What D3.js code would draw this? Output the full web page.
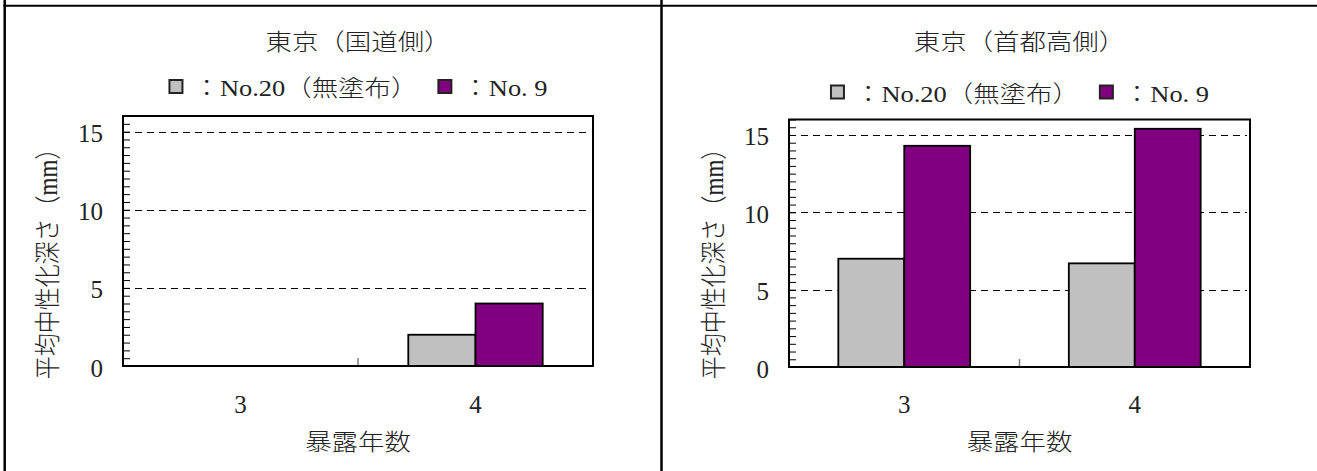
<!DOCTYPE html>
<html>
<head>
<meta charset="utf-8">
<script src="https://cdn.jsdelivr.net/npm/d3@7"></script>
<style>
  html, body { margin: 0; padding: 0; background: #fff; }
  svg { display: block; }
</style>
</head>
<body>
<svg id="chart" width="1317" height="471"></svg>
<script>
// ---------- DATA ----------
const categories = ["3", "4"];
const seriesNames = ["No.20（無塗布）", "No. 9"];
const seriesColors = ["#c0c0c0", "#800080"];
const panelTitles = ["東京（国道側）", "東京（首都高側）"];
// values per series, per category (null = no bar)
const panel1No20 = [null, 2.0];
const panel1No9 = [null, 4.0];
const panel2No20 = [7.0, 6.7];
const panel2No9 = [14.3, 15.4];
const yTickValues = [0, 5, 10, 15];
const yDomainMax = 16;
const xAxisTitle = "暴露年数";
const yAxisTitle = "平均中性化深さ（mm）";

// ---------- LAYOUT ----------
const svg = d3.select("#chart");
const CJK = "'Liberation Serif', 'Noto Sans CJK JP', serif";
const NUM = "'Liberation Serif', serif";
const SX = 1.15;          // horizontal stretch of the original picture
const textColor = "#222";
const cjkWeight = 300;

const panels = [
  { title: panelTitles[0], values: [panel1No20, panel1No9],
    plot: { x0: 123, x1: 593, y0: 116, y1: 366 }, titleY: 50, legendY: 96.3 },
  { title: panelTitles[1], values: [panel2No20, panel2No9],
    plot: { x0: 789, x1: 1250, y0: 119.5, y1: 367 }, titleY: 50, legendY: 101.8 }
];

// outer frame
const frame = svg.append("g").attr("stroke", "#000");
frame.append("line").attr("x1", 4.7).attr("x2", 4.7).attr("y1", 0).attr("y2", 471).attr("stroke-width", 2.5);
frame.append("line").attr("x1", 661.5).attr("x2", 661.5).attr("y1", 0).attr("y2", 471).attr("stroke-width", 2.5);
frame.append("line").attr("x1", 3.5).attr("x2", 1317).attr("y1", 5.7).attr("y2", 5.7).attr("stroke-width", 2);

panels.forEach(p => {
  const { x0, x1, y0, y1 } = p.plot;
  const cx = (x0 + x1) / 2;
  const g = svg.append("g");

  const x = d3.scaleBand().domain(categories).range([x0, x1]).padding(0);
  const bw = x.bandwidth();
  const xs = d3.scaleBand().domain(seriesNames).range([bw * 0.214, bw * 0.786]).padding(0);
  const y = d3.scaleLinear().domain([0, yDomainMax]).range([y1, y0]);

  // dashed gridlines
  g.append("g").selectAll("line").data(yTickValues.filter(v => v > 0)).join("line")
    .attr("x1", x0).attr("x2", x1 - 3)
    .attr("y1", d => Math.round(y(d)) + 0.5).attr("y2", d => Math.round(y(d)) + 0.5)
    .attr("stroke", "#000").attr("stroke-width", 1).attr("stroke-dasharray", "7,5");

  // minor ticks on y axis (inside), via d3 axis
  const minor = d3.range(0, yDomainMax + 0.001, 0.5);
  const yAxis = d3.axisRight(y).tickValues(minor).tickSize(7).tickFormat("");
  const ya = g.append("g").attr("transform", `translate(${x0},0)`).call(yAxis);
  ya.select(".domain").remove();
  ya.selectAll(".tick line").attr("stroke", "#000").attr("stroke-width", 1);

  // y tick labels
  g.append("g").selectAll("text").data(yTickValues).join("text")
    .attr("x", x0 - 20).attr("y", d => y(d) + 10.5)
    .attr("text-anchor", "end")
    .attr("font-family", NUM).attr("font-size", 25).attr("fill", textColor)
    .text(d => d);

  // bars
  const barData = [];
  p.values.forEach((vals, si) => {
    vals.forEach((v, ci) => {
      if (v !== null) barData.push({ s: seriesNames[si], c: categories[ci], v, color: seriesColors[si] });
    });
  });
  g.append("g").selectAll("rect").data(barData).join("rect")
    .attr("x", d => x(d.c) + xs(d.s))
    .attr("width", xs.bandwidth())
    .attr("y", d => y(d.v))
    .attr("height", d => y(0) - y(d.v))
    .attr("fill", d => d.color)
    .attr("stroke", "#000").attr("stroke-width", 1.8);

  // category boundary tick (inside, gray)
  g.append("g").selectAll("line").data(categories.slice(1)).join("line")
    .attr("x1", d => x(d)).attr("x2", d => x(d))
    .attr("y1", y1).attr("y2", y1 - 8)
    .attr("stroke", "#808080").attr("stroke-width", 1.5);

  // plot border
  g.append("rect").attr("x", x0).attr("y", y0)
    .attr("width", x1 - x0).attr("height", y1 - y0)
    .attr("fill", "none").attr("stroke", "#000").attr("stroke-width", 2);

  // category labels
  g.append("g").selectAll("text").data(categories).join("text")
    .attr("x", d => x(d) + bw / 2).attr("y", 413.3)
    .attr("text-anchor", "middle")
    .attr("font-family", NUM).attr("font-size", 25).attr("fill", textColor)
    .text(d => d);

  // x axis title
  g.append("text")
    .attr("transform", `translate(${cx},450) scale(${SX},1)`)
    .attr("text-anchor", "middle")
    .attr("font-family", CJK).attr("font-size", 23).attr("font-weight", cjkWeight).attr("fill", textColor)
    .text(xAxisTitle);

  // y axis title (rotated)
  g.append("text")
    .attr("transform", `translate(${x0 - 76 + 9.5},${258}) rotate(-90) scale(1,${SX})`)
    .attr("text-anchor", "middle")
    .attr("font-family", CJK).attr("font-size", 23).attr("font-weight", cjkWeight).attr("fill", textColor)
    .text(yAxisTitle);

  // panel title
  g.append("text")
    .attr("transform", `translate(${cx},${p.titleY}) scale(${SX},1)`)
    .attr("text-anchor", "middle")
    .attr("font-family", CJK).attr("font-size", 23).attr("font-weight", cjkWeight).attr("fill", textColor)
    .text(p.title);

  // legend
  const lg = g.append("g");
  let cursor = 0;
  seriesNames.forEach((name, i) => {
    lg.append("rect")
      .attr("x", cursor + 1).attr("y", -16.3).attr("width", 13).attr("height", 13)
      .attr("fill", seriesColors[i]).attr("stroke", "#222").attr("stroke-width", 2);
    cursor += 15 + 10;
    const t = lg.append("text")
      .attr("transform", `translate(${cursor},0) scale(${SX},1)`)
      .attr("font-family", CJK).attr("font-size", 23).attr("font-weight", cjkWeight).attr("fill", textColor)
      .text("：" + name);
    cursor += t.node().getComputedTextLength() * SX;
    if (i < seriesNames.length - 1) cursor += 20;
  });
  lg.attr("transform", `translate(${cx - cursor / 2},${p.legendY})`);
});
</script>
</body>
</html>
